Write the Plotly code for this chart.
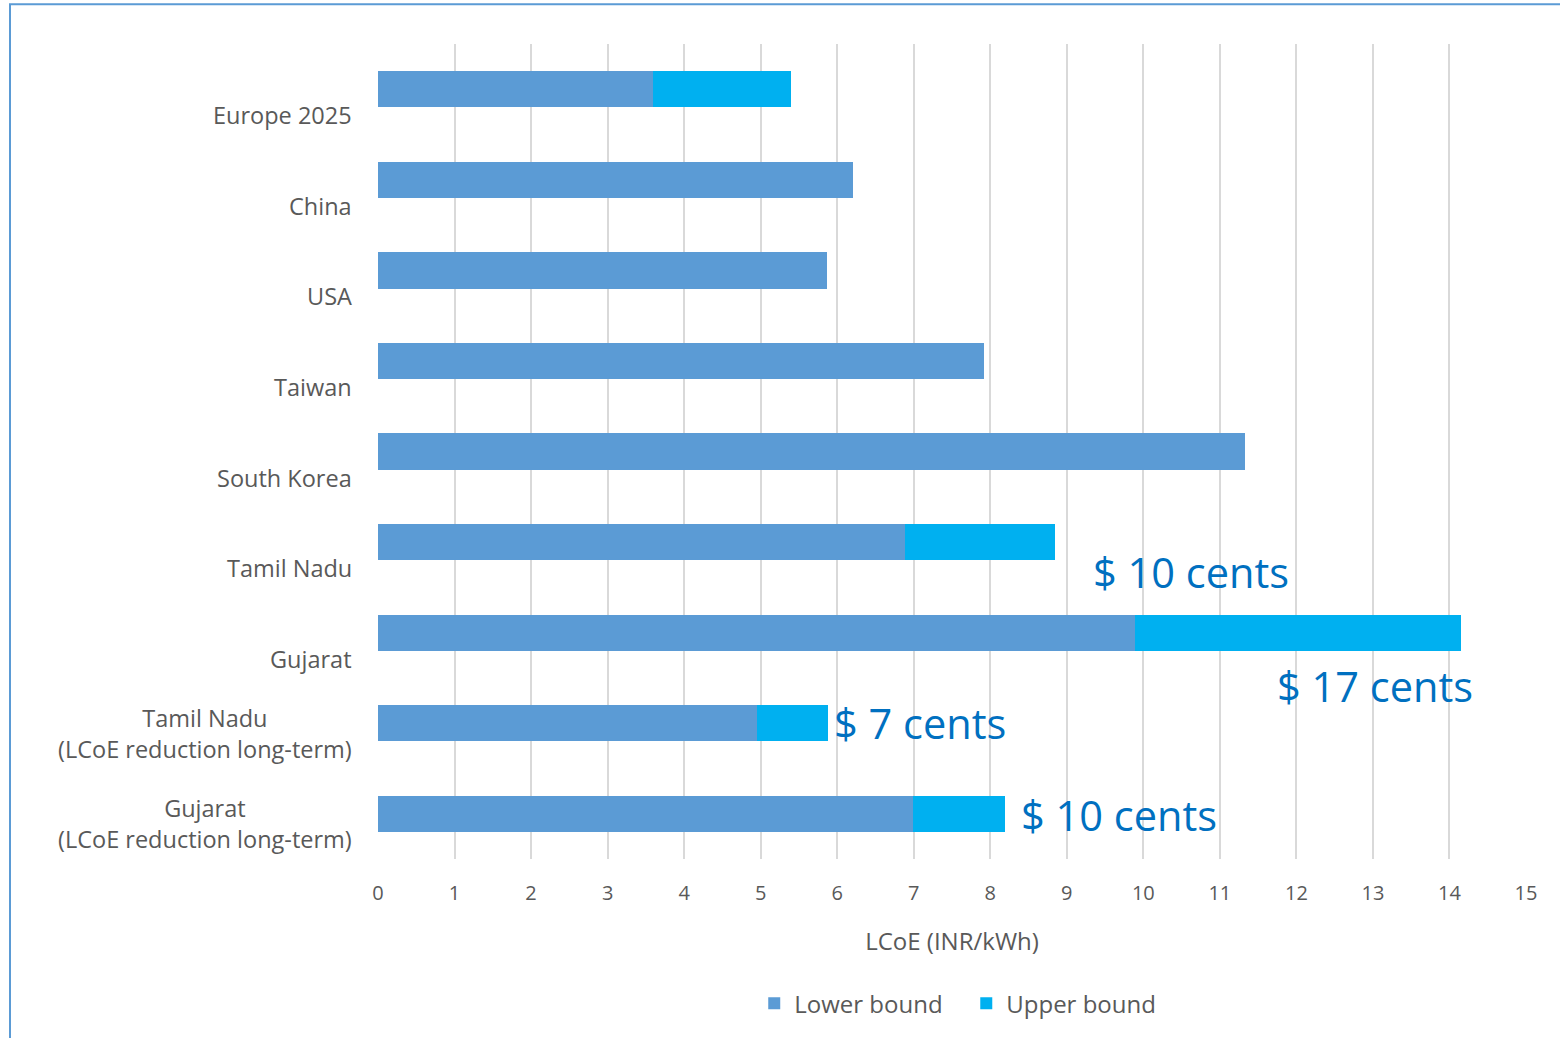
import plotly.graph_objects as go

categories = ["Europe 2025", "China", "USA", "Taiwan", "South Korea", "Tamil Nadu", "Gujarat",
              "Tamil Nadu<br>(LCoE reduction long-term)", "Gujarat<br>(LCoE reduction long-term)"]
lower_bound = [3.59, 6.21, 5.87, 7.92, 11.33, 6.89, 9.89, 4.95, 6.99]
upper_extra = [1.81, 0, 0, 0, 0, 1.96, 4.26, 0.93, 1.20]
cent_labels = {"Tamil Nadu": "$ 10 cents", "Gujarat": "$ 17 cents",
               "Tamil Nadu<br>(LCoE reduction long-term)": "$ 7 cents",
               "Gujarat<br>(LCoE reduction long-term)": "$ 10 cents"}
x_ticks = list(range(0, 16))

FONT = "Open Sans"
GRAY = "#595959"

fig = go.Figure()
fig.add_trace(go.Bar(y=categories, x=lower_bound, orientation="h", name="Lower bound\u00a0\u00a0\u00a0",
                     marker=dict(color="#5B9BD5", line=dict(width=0)), width=0.4))
fig.add_trace(go.Bar(y=categories, x=upper_extra, orientation="h", name="Upper bound",
                     marker=dict(color="#00B0F0", line=dict(width=0)), width=0.4))

annotations = []
for c in categories:
    nlines = c.count("<br>") + 1
    annotations.append(dict(x=0, xref="paper", y=c, yref="y", text=c, showarrow=False,
                            xanchor="right", yanchor="middle", xshift=-24,
                            yshift=-26 if nlines == 1 else -10, align="center",
                            font=dict(family=FONT, size=23.5, color=GRAY)))

# cents annotations placement relative to bar ends
offsets = {"Tamil Nadu": ("left", 36, -30),
           "Gujarat": ("right", 14, -53),
           "Tamil Nadu<br>(LCoE reduction long-term)": ("left", 4, 0),
           "Gujarat<br>(LCoE reduction long-term)": ("left", 14, -1)}
for c, txt in cent_labels.items():
    i = categories.index(c)
    total = lower_bound[i] + upper_extra[i]
    anchor, xs, ys = offsets[c]
    annotations.append(dict(x=total, xref="x", y=c, yref="y", text=txt, showarrow=False,
                            xanchor=anchor, yanchor="middle", xshift=xs, yshift=ys,
                            font=dict(family=FONT, size=41.5, color="#0070C0")))

fig.update_layout(
    width=1560, height=1038,
    margin=dict(l=378, r=34, t=44, b=176),
    barmode="stack", bargap=0.6,
    plot_bgcolor="white", paper_bgcolor="white",
    font=dict(family=FONT, color=GRAY),
    showlegend=True,
    legend=dict(orientation="h", x=0.505, xanchor="center", y=-0.15, yanchor="top",
                font=dict(family=FONT, size=24, color=GRAY), traceorder="normal",
                itemwidth=30),
    annotations=annotations,
    shapes=[dict(type="rect", xref="paper", yref="paper",
                 x0=(10 - 378) / 1148, x1=(1600 - 378) / 1148,
                 y0=(862 - 1080) / 818, y1=(862 - 4) / 818,
                 line=dict(color="#5B9BD5", width=2), layer="below")],
)
fig.update_xaxes(range=[0, 15], tickvals=x_ticks, showgrid=True, gridcolor="#D9D9D9", gridwidth=2,
                 zeroline=False, showline=False, ticks="outside", ticklen=16,
                 tickcolor="rgba(0,0,0,0)",
                 tickfont=dict(family=FONT, size=20, color=GRAY),
                 title=dict(text="LCoE (INR/kWh)", font=dict(family=FONT, size=24, color=GRAY),
                            standoff=28))
fig.update_yaxes(categoryorder="array", categoryarray=categories, autorange="reversed",
                 showticklabels=False, showgrid=False, zeroline=False, showline=False)

fig.write_html("out.html")
